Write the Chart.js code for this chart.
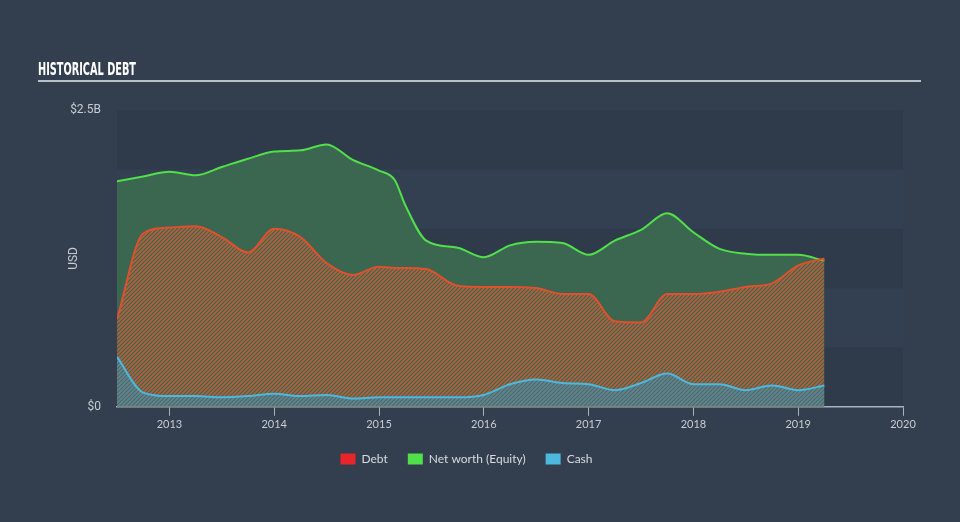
<!DOCTYPE html>
<html>
<head>
<meta charset="utf-8">
<script src="https://cdn.jsdelivr.net/npm/chart.js@4"></script>
<style>
  html, body { margin: 0; padding: 0; background: #333f4f; }
  #wrap { width: 960px; height: 522px; }
</style>
</head>
<body>
<div id="wrap"><canvas id="chart"></canvas></div>
<script>
// data (billions USD)
var years = [2012.5, 2012.75, 2013, 2013.25, 2013.5, 2013.75, 2014, 2014.25, 2014.5, 2014.75, 2015, 2015.15, 2015.25, 2015.45, 2015.75, 2016, 2016.25, 2016.5, 2016.75, 2017, 2017.25, 2017.5, 2017.75, 2018, 2018.25, 2018.5, 2018.75, 2019, 2019.25];
var debt = [0.74, 1.46, 1.51, 1.52, 1.43, 1.30, 1.50, 1.43, 1.21, 1.11, 1.18, 1.17, 1.17, 1.16, 1.02, 1.01, 1.01, 1.00, 0.95, 0.95, 0.72, 0.71, 0.95, 0.95, 0.97, 1.01, 1.04, 1.19, 1.25];
var equity = [1.90, 1.94, 1.98, 1.95, 2.02, 2.09, 2.15, 2.16, 2.21, 2.08, 1.99, 1.91, 1.70, 1.40, 1.34, 1.26, 1.36, 1.39, 1.38, 1.28, 1.40, 1.49, 1.63, 1.47, 1.33, 1.29, 1.28, 1.28, 1.23];
var cash = [0.42, 0.12, 0.09, 0.09, 0.08, 0.09, 0.11, 0.09, 0.10, 0.07, 0.08, 0.08, 0.08, 0.08, 0.08, 0.10, 0.19, 0.23, 0.20, 0.19, 0.14, 0.20, 0.28, 0.19, 0.19, 0.14, 0.18, 0.14, 0.18];
var xTicks = [2013, 2014, 2015, 2016, 2017, 2018, 2019, 2020];
var yBands = [0, 0.5, 1, 1.5, 2, 2.5];

function points(vals) {
  return vals.map(function (v, i) { return { x: years[i], y: v }; });
}

function hatch(bg, stripe) {
  var c = document.createElement('canvas');
  c.width = 4; c.height = 4;
  var g = c.getContext('2d');
  if (bg) { g.fillStyle = bg; g.fillRect(0, 0, 4, 4); }
  g.strokeStyle = stripe;
  g.lineWidth = 1.6;
  g.beginPath();
  g.moveTo(-1, 5); g.lineTo(5, -1);
  g.moveTo(-1, 1); g.lineTo(1, -1);
  g.moveTo(3, 5); g.lineTo(5, 3);
  g.stroke();
  return g.createPattern(c, 'repeat');
}

var ctx = document.getElementById('chart').getContext('2d');

var debtFill = hatch(null, 'rgba(200,95,58,0.85)');
var cashFill = hatch('rgba(85,105,108,0.75)', 'rgba(80,160,190,0.55)');

// background bands, title and rule
var decor = {
  id: 'decor',
  beforeDraw: function (chart) {
    var c = chart.ctx, a = chart.chartArea, y = chart.scales.y;
    c.save();
    c.fillStyle = '#333f4f';
    c.fillRect(0, 0, chart.width, chart.height);
    for (var i = 0; i < yBands.length - 1; i++) {
      var top = y.getPixelForValue(yBands[i + 1]);
      var bot = y.getPixelForValue(yBands[i]);
      c.fillStyle = (i % 2 === 0) ? '#2f3b4b' : '#334051';
      c.fillRect(a.left, top, a.right - a.left, bot - top);
    }
    // title
    c.fillStyle = '#ffffff';
    c.font = 'bold 18px "Liberation Sans Narrow", "DejaVu Sans Condensed", sans-serif';
    c.textBaseline = 'alphabetic';
    var t = 'HISTORICAL DEBT';
    var w = c.measureText(t).width;
    c.translate(38, 75);
    c.scale(98 / w, 1);
    c.fillText(t, 0, 0);
    c.restore();
    c.save();
    c.strokeStyle = '#b8bfc8';
    c.lineWidth = 2;
    c.beginPath();
    c.moveTo(38, 81); c.lineTo(921, 81);
    c.stroke();
    c.restore();
  }
};

var chart = new Chart(ctx, {
  type: 'line',
  data: {
    datasets: [{
      label: 'Debt',
      data: points(debt),
      borderColor: '#e0502c',
      backgroundColor: debtFill,
      fill: 'origin',
      order: 1
    }, {
      label: 'Net worth (Equity)',
      data: points(equity),
      borderColor: '#4fe04a',
      backgroundColor: 'rgba(60,104,80,0.95)',
      fill: 'origin',
      order: 2
    }, {
      label: 'Cash',
      data: points(cash),
      borderColor: '#4cb8df',
      backgroundColor: cashFill,
      fill: 'origin',
      order: 0
    }]
  },
  plugins: [decor],
  options: {
    responsive: true,
    maintainAspectRatio: false,
    animation: false,
    layout: { padding: { left: 30, right: 57, top: 110, bottom: 47 } },
    elements: {
      point: { radius: 0 },
      line: { borderWidth: 2, tension: 0.4, cubicInterpolationMode: 'monotone' }
    },
    scales: {
      x: {
        type: 'linear',
        min: 2012.5,
        max: 2020,
        afterBuildTicks: function (s) { s.ticks = xTicks.map(function (v) { return { value: v }; }); },
        ticks: {
          color: '#c8ccd2',
          font: { family: 'Lato', size: 11 },
          padding: 2,
          maxRotation: 0,
          callback: function (v) { return String(v); }
        },
        grid: { drawOnChartArea: false, drawTicks: true, tickLength: 9, color: '#aab2bc' },
        border: { display: true, color: '#aab2bc', width: 1.5 }
      },
      y: {
        min: 0,
        max: 2.5,
        afterBuildTicks: function (s) { s.ticks = yBands.map(function (v) { return { value: v }; }); },
        afterFit: function (s) { s.width = 87; },
        ticks: {
          color: '#c8ccd2',
          font: { family: 'Roboto', size: 12 },
          padding: 16,
          callback: function (v) { return v === 0 ? '$0' : (v === 2.5 ? '$2.5B' : ''); }
        },
        grid: { display: false, drawTicks: false },
        border: { display: false },
        title: {
          display: true,
          text: 'USD',
          color: '#c8ccd2',
          font: { family: 'Roboto', size: 12 },
          padding: { top: 37, bottom: 0 }
        }
      }
    },
    plugins: {
      tooltip: { enabled: false },
      legend: {
        position: 'bottom',
        labels: {
          color: '#d8dbe0',
          font: { family: 'Lato', size: 12 },
          boxWidth: 15,
          boxHeight: 11,
          padding: 20,
          generateLabels: function () {
            return [
              { text: 'Debt', fillStyle: '#e8262a', strokeStyle: '#e8262a', lineWidth: 0, fontColor: '#d8dbe0' },
              { text: 'Net worth (Equity)', fillStyle: '#4fe04a', strokeStyle: '#4fe04a', lineWidth: 0, fontColor: '#d8dbe0' },
              { text: 'Cash', fillStyle: '#4cb8df', strokeStyle: '#4cb8df', lineWidth: 0, fontColor: '#d8dbe0' }
            ];
          }
        }
      }
    }
  }
});
</script>
</body>
</html>
